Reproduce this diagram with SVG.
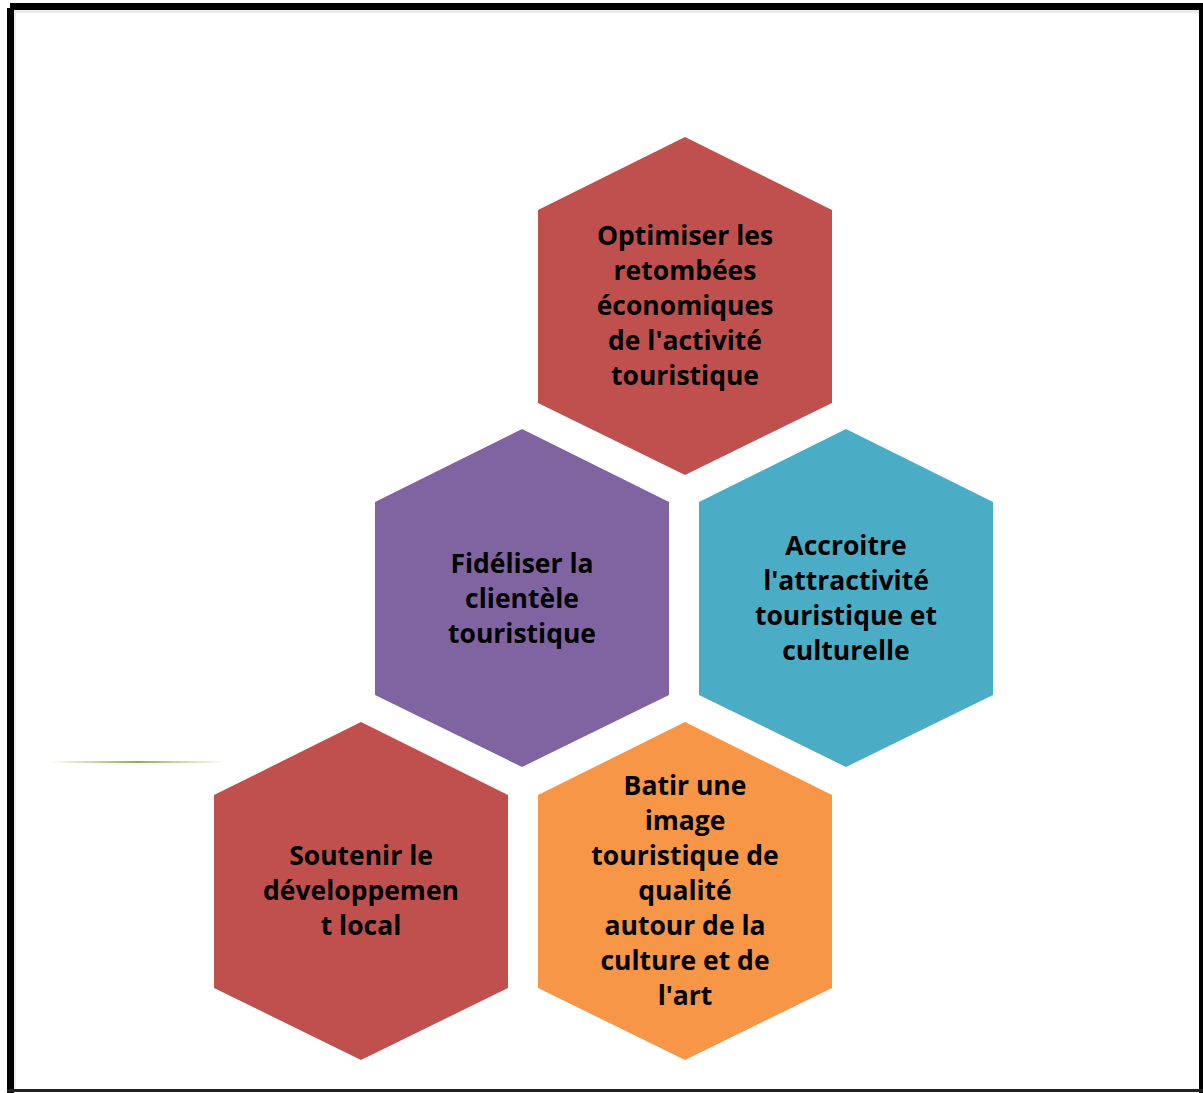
<svg xmlns="http://www.w3.org/2000/svg" width="1203" height="1093" viewBox="0 0 1203 1093">
<defs>
<style>
.t{font-family:"Open Sans","Liberation Sans",sans-serif;font-weight:700;font-size:26.5px;fill:#000;text-anchor:middle}
</style>
<linearGradient id="gl" x1="0" x2="1" y1="0" y2="0">
<stop offset="0" stop-color="#9BBB59" stop-opacity="0"/>
<stop offset="0.5" stop-color="#8AB146"/>
<stop offset="1" stop-color="#9BBB59" stop-opacity="0"/>
</linearGradient>
<polygon id="hex" points="0,0 147,73 147,266 0,338 -147,266 -147,73"/>
</defs>
<rect x="0" y="0" width="1203" height="1093" fill="#fff"/>
<g id="frame">
<rect x="10" y="3" width="1193" height="7" fill="#000"/>
<rect x="7" y="8" width="7" height="1085" fill="#000"/>
<rect x="1199" y="3" width="4" height="1090" fill="#000"/>
<rect x="7" y="1089" width="1196" height="3" fill="#222"/>
<rect x="14" y="10" width="1185" height="3" fill="#ddd" opacity="0.6"/>
<rect x="14" y="10" width="2" height="1079" fill="#ddd" opacity="0.6"/>
</g>
<g id="connectors">
<rect x="48" y="761" width="178" height="2" fill="url(#gl)"/>
</g>
<g id="node-top">
<use href="#hex" x="685" y="137" fill="#C0504D"/>
<text class="t"><tspan x="685" y="245">Optimiser les</tspan><tspan x="685" y="280">retombées</tspan><tspan x="685" y="315">économiques</tspan><tspan x="685" y="350">de l'activité</tspan><tspan x="685" y="385">touristique</tspan></text>
</g>
<g id="node-purple">
<use href="#hex" x="522" y="429" fill="#8064A2"/>
<text class="t"><tspan x="522" y="573">Fidéliser la</tspan><tspan x="522" y="608">clientèle</tspan><tspan x="522" y="643">touristique</tspan></text>
</g>
<g id="node-teal">
<use href="#hex" x="846" y="429" fill="#4BACC6"/>
<text class="t"><tspan x="846" y="555">Accroitre</tspan><tspan x="846" y="590">l'attractivité</tspan><tspan x="846" y="625">touristique et</tspan><tspan x="846" y="660">culturelle</tspan></text>
</g>
<g id="node-red">
<use href="#hex" x="361" y="722" fill="#C0504D"/>
<text class="t"><tspan x="361" y="865">Soutenir le</tspan><tspan x="361" y="900">développemen</tspan><tspan x="361" y="935">t local</tspan></text>
</g>
<g id="node-orange">
<use href="#hex" x="685" y="722" fill="#F79646"/>
<text class="t"><tspan x="685" y="795">Batir une</tspan><tspan x="685" y="830">image</tspan><tspan x="685" y="865">touristique de</tspan><tspan x="685" y="900">qualité</tspan><tspan x="685" y="935">autour de la</tspan><tspan x="685" y="970">culture et de</tspan><tspan x="685" y="1005">l'art</tspan></text>
</g>
</svg>
